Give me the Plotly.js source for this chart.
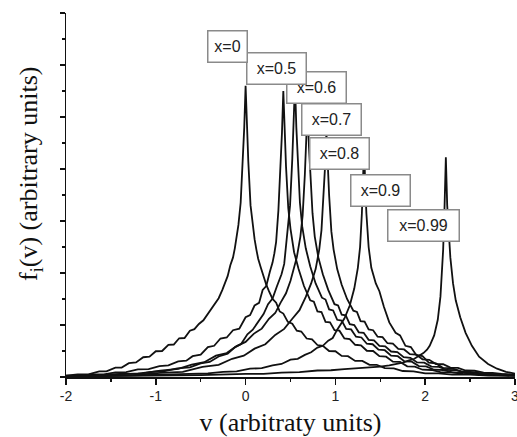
<!DOCTYPE html>
<html>
<head>
<meta charset="utf-8">
<script src="https://cdn.plot.ly/plotly-3.0.1.min.js"></script>
<style>html,body{margin:0;padding:0;background:#fff;}#chart{width:517px;height:437px;}</style>
</head>
<body>
<div id="chart"></div>
<script>
// ---- data (v in arbitrary units, f in tick units) ----
const v_x0 = [-2.0,-1.87,-1.75,-1.63,-1.55,-1.45,-1.38,-1.3,-1.22,-1.14,-1.07,-1.0,-0.93,-0.86,-0.8,-0.74,-0.68,-0.62,-0.57,-0.52,-0.47,-0.42,-0.38,-0.34,-0.3,-0.26,-0.23,-0.2,-0.17,-0.14,-0.12,-0.1,-0.08,-0.055,-0.03,-0.015,0,0.015,0.03,0.055,0.08,0.1,0.12,0.14,0.17,0.2,0.23,0.26,0.3,0.34,0.38,0.42,0.47,0.52,0.57,0.62,0.68,0.74,0.8,0.86,0.93,1.0,1.07,1.14,1.22,1.3,1.38,1.46,1.55,1.65,1.75,1.87,2.0,2.15,2.3,2.5,2.7,2.85,3.0];
const f_x0 = [0.05,0.1,0.1,0.22,0.22,0.36,0.36,0.53,0.56,0.76,0.78,0.99,1.0,1.24,1.25,1.49,1.5,1.78,1.84,2.04,2.18,2.42,2.6,2.84,3.03,3.34,3.6,3.88,4.3,4.6,4.95,5.35,5.85,6.7,8.3,9.6,11.2,9.5,8.3,6.6,5.8,5.3,4.9,4.55,4.2,3.85,3.55,3.3,3.0,2.86,2.52,2.44,2.12,2.05,1.78,1.75,1.48,1.45,1.23,1.2,1.0,0.99,0.81,0.8,0.62,0.62,0.47,0.47,0.34,0.33,0.23,0.22,0.14,0.14,0.09,0.09,0.05,0.06,0.04];

const v_x05 = [-2.0,-1.85,-1.7,-1.58,-1.45,-1.33,-1.2,-1.08,-0.96,-0.86,-0.75,-0.66,-0.59,-0.5,-0.42,-0.35,-0.28,-0.21,-0.14,-0.07,0.0,0.05,0.1,0.15,0.19,0.23,0.27,0.3,0.32,0.34,0.365,0.39,0.405,0.42,0.435,0.45,0.475,0.5,0.54,0.59,0.65,0.72,0.76,0.8,0.845,0.89,0.94,0.99,1.045,1.1,1.16,1.22,1.285,1.35,1.42,1.49,1.565,1.64,1.72,1.8,1.885,1.97,2.07,2.17,2.3,2.42,2.56,2.7,2.85,3.0];
const f_x05 = [0.04,0.05,0.1,0.1,0.18,0.19,0.29,0.3,0.42,0.45,0.6,0.63,0.8,0.86,1.15,1.2,1.48,1.52,1.8,1.86,2.3,2.38,2.75,2.85,3.35,3.5,4.05,4.4,4.75,5.2,6.4,8.1,9.4,11.0,9.3,8.1,6.5,5.7,4.8,4.15,3.5,2.95,2.9,2.52,2.5,2.12,2.1,1.8,1.78,1.48,1.46,1.24,1.22,1.01,1.0,0.8,0.78,0.59,0.58,0.41,0.4,0.28,0.27,0.19,0.18,0.12,0.11,0.07,0.06,0.05];

const v_x06 = [-2.0,-1.8,-1.6,-1.4,-1.2,-1.05,-0.9,-0.76,-0.62,-0.5,-0.4,-0.3,-0.2,-0.12,-0.05,0.02,0.08,0.14,0.2,0.25,0.3,0.35,0.4,0.43,0.47,0.495,0.52,0.535,0.55,0.565,0.58,0.605,0.63,0.67,0.72,0.78,0.85,0.89,0.93,0.975,1.02,1.07,1.12,1.175,1.23,1.29,1.35,1.415,1.48,1.55,1.62,1.695,1.77,1.85,1.93,2.01,2.1,2.2,2.3,2.42,2.55,2.68,2.8,3.0];
const f_x06 = [0.03,0.06,0.06,0.12,0.13,0.2,0.23,0.33,0.37,0.52,0.58,0.79,0.9,1.14,1.27,1.64,1.82,2.12,2.42,2.8,3.02,3.5,3.95,4.35,5.6,6.6,8.4,9.7,11.3,9.6,8.4,6.7,5.8,4.95,4.25,3.6,3.05,2.98,2.6,2.56,2.2,2.17,1.85,1.83,1.55,1.52,1.28,1.26,1.05,1.03,0.82,0.8,0.6,0.59,0.42,0.41,0.28,0.27,0.18,0.17,0.11,0.1,0.07,0.05];

const v_x07 = [-2.0,-1.7,-1.4,-1.15,-0.95,-0.75,-0.6,-0.46,-0.33,-0.21,-0.1,0.0,0.09,0.18,0.26,0.33,0.39,0.45,0.5,0.54,0.57,0.61,0.635,0.66,0.675,0.69,0.705,0.72,0.745,0.77,0.81,0.86,0.92,0.99,1.03,1.07,1.115,1.16,1.21,1.26,1.315,1.37,1.43,1.49,1.555,1.62,1.69,1.76,1.835,1.91,1.99,2.07,2.155,2.24,2.34,2.44,2.56,2.69,2.85,3.0];
const f_x07 = [0.05,0.06,0.11,0.14,0.24,0.31,0.48,0.57,0.82,0.92,1.19,1.35,1.66,1.86,2.24,2.46,2.86,3.22,3.7,4.2,4.6,5.4,6.2,7.8,8.9,10.4,8.9,7.8,6.3,5.4,4.6,3.95,3.35,2.8,2.75,2.4,2.37,2.03,2.0,1.72,1.7,1.43,1.41,1.2,1.18,0.98,0.96,0.76,0.74,0.56,0.55,0.4,0.39,0.27,0.26,0.18,0.17,0.11,0.1,0.07];

const v_x08 = [-2.0,-1.6,-1.25,-0.95,-0.7,-0.48,-0.3,-0.15,-0.02,0.1,0.22,0.33,0.43,0.52,0.6,0.67,0.73,0.78,0.82,0.845,0.87,0.885,0.9,0.915,0.93,0.955,0.98,1.02,1.07,1.13,1.2,1.24,1.28,1.325,1.37,1.42,1.47,1.525,1.58,1.64,1.7,1.765,1.83,1.9,1.97,2.045,2.12,2.2,2.28,2.365,2.45,2.55,2.65,2.75,2.85,3.0];
const f_x08 = [0.03,0.06,0.07,0.16,0.2,0.39,0.47,0.7,0.82,1.09,1.26,1.62,1.85,2.24,2.57,3.08,3.6,4.15,4.9,5.65,7.0,8.1,9.4,8.0,7.0,5.6,4.9,4.15,3.55,3.0,2.55,2.5,2.15,2.13,1.83,1.8,1.55,1.53,1.3,1.28,1.08,1.06,0.88,0.86,0.68,0.66,0.5,0.49,0.36,0.35,0.25,0.24,0.17,0.16,0.12,0.09];

const v_x09 = [-2.0,-1.75,-1.5,-1.25,-1.0,-0.8,-0.6,-0.42,-0.25,-0.1,0.05,0.18,0.3,0.4,0.5,0.58,0.66,0.73,0.8,0.86,0.92,0.97,1.02,1.1,1.16,1.21,1.25,1.275,1.295,1.31,1.32,1.33,1.345,1.37,1.4,1.45,1.49,1.54,1.6,1.67,1.72,1.78,1.84,1.9,1.97,2.04,2.12,2.2,2.3,2.4,2.5,2.6,2.7,2.8,2.9,3.0];
const f_x09 = [0.03,0.03,0.05,0.06,0.08,0.1,0.13,0.14,0.2,0.22,0.32,0.34,0.45,0.5,0.67,0.7,0.85,0.95,1.13,1.2,1.4,1.5,1.82,2.25,2.75,3.4,4.2,5.0,6.3,7.6,8.9,7.6,6.3,5.0,4.2,3.6,3.3,2.7,2.1,1.7,1.6,1.2,1.15,0.85,0.8,0.55,0.52,0.35,0.33,0.22,0.2,0.14,0.13,0.1,0.09,0.07];

const v_x099 = [-2.0,-1.5,-1.0,-0.5,0.0,0.2,0.4,0.6,0.8,0.95,1.1,1.25,1.4,1.5,1.6,1.68,1.75,1.82,1.88,1.93,1.98,2.02,2.05,2.1,2.14,2.17,2.2,2.215,2.23,2.245,2.26,2.28,2.31,2.34,2.39,2.45,2.52,2.6,2.7,2.8,2.9,3.0];
const f_x099 = [0.02,0.03,0.05,0.07,0.12,0.12,0.17,0.19,0.25,0.26,0.3,0.33,0.38,0.4,0.45,0.5,0.55,0.64,0.7,0.82,0.92,1.05,1.2,1.6,2.2,3.1,4.9,6.5,8.45,6.6,5.5,4.6,3.6,2.95,2.3,1.7,1.2,0.78,0.5,0.32,0.2,0.13];

const labelTexts = ['x=0','x=0.5','x=0.6','x=0.7','x=0.8','x=0.9','x=0.99'];
const labelV = [-0.206,0.339,0.794,0.961,1.05,1.506,1.978];
const labelF = [12.73,11.88,11.15,9.92,8.58,7.17,5.81];
const xTickVals = [-2,-1,0,1,2,3];
const xTickText = ['-2','-1','0','1','2','3'];

const seriesV = [v_x0,v_x05,v_x06,v_x07,v_x08,v_x09,v_x099];
const seriesF = [f_x0,f_x05,f_x06,f_x07,f_x08,f_x09,f_x099];

const SANS = '"Liberation Sans", Arial, Helvetica, sans-serif';
const SERIF = '"Liberation Serif", "Times New Roman", Times, serif';

const traces = seriesV.map((v,i)=>({
  x: v, y: seriesF[i], type:'scatter', mode:'lines', name: labelTexts[i],
  line:{color:'#111', width:1.8}, hoverinfo:'skip'
}));

const labelWidths = [30,50,50,50,50,50,62];
const annotations = [];
for (let i = labelTexts.length-1; i >= 0; i--) {
  annotations.push({
    x: labelV[i], y: labelF[i], xref:'x', yref:'y', text: labelTexts[i],
    showarrow:false, xanchor:'center', yanchor:'middle',
    font:{family:SANS, size:16, color:'#222'},
    bgcolor:'#ffffff', bordercolor:'#8a8a8a', borderwidth:1.5, borderpad:4,
    width: labelWidths[i], height: 22
  });
}
annotations.push({
  x:-0.08, y:0.558, xref:'paper', yref:'paper', text:'f<sub>i</sub>(v) (arbitrary units)',
  showarrow:false, textangle:-90, xanchor:'center', yanchor:'middle',
  font:{family:SERIF, size:26, color:'#111'}
});

const layout = {
  width:517, height:437,
  margin:{l:66, r:2, t:13, b:60},
  paper_bgcolor:'#fff', plot_bgcolor:'#fff',
  showlegend:false,
  font:{family:SANS},
  xaxis:{
    range:[-2,3], tickvals:xTickVals, ticktext:xTickText,
    ticks:'outside', ticklen:6, tickwidth:1.5, tickcolor:'#111',
    ticklabeloverflow:'allow',
    minor:{dtick:0.5, tick0:0, ticks:'outside', ticklen:3, tickwidth:1.5, tickcolor:'#111'},
    showline:true, linecolor:'#111', linewidth:1.5, showgrid:false, zeroline:false,
    tickfont:{family:SANS, size:14, color:'#222'},
    title:{text:'v (arbitraty units)', standoff:9,
      font:{family:SERIF, size:26, color:'#111'}}
  },
  yaxis:{
    range:[0,14], dtick:2, tick0:0, showticklabels:false,
    ticks:'outside', ticklen:5, tickwidth:1.5, tickcolor:'#111',
    minor:{dtick:1, tick0:0, ticks:'outside', ticklen:3, tickwidth:1.5, tickcolor:'#111'},
    showline:true, linecolor:'#111', linewidth:1.5, showgrid:false, zeroline:false
  },
  annotations: annotations
};

Plotly.newPlot('chart', traces, layout, {displayModeBar:false, staticPlot:true});
</script>
</body>
</html>
